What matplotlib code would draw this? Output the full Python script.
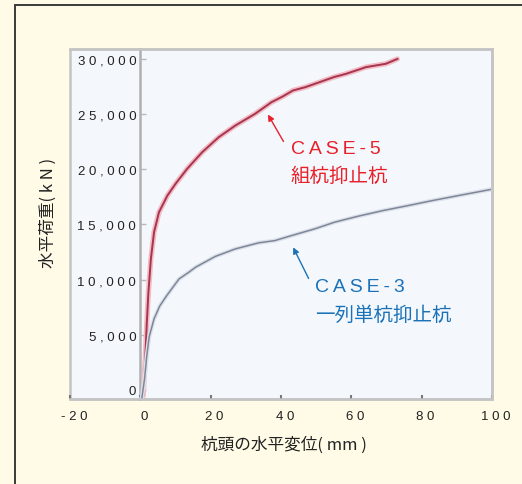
import matplotlib.pyplot as plt
from matplotlib.patches import Rectangle
from matplotlib.transforms import ScaledTranslation

# CASE-5 (組杭抑止杭) : displacement (mm), load (kN)
case5_disp = [0.4, 0.8, 1.4, 1.8, 2.3, 3.0, 3.9, 5.3, 7.7, 10.0, 13.3, 17.6, 22.3, 27.0,
              32.6, 37.3, 40.5, 43.4, 47.0, 51.0, 55.0, 58.5, 64.2, 69.8, 73.1]
case5_load = [-800, -520, 2810, 5830, 8860, 11880, 14300, 16110, 17620, 18680, 20040, 21550,
              22910, 23960, 25020, 26080, 26600, 27140, 27450, 27900, 28350, 28650, 29260,
              29560, 30000]

# CASE-3 (一列単杭抑止杭)
case3_disp = [0.4, 1.2, 1.8, 2.5, 3.9, 5.5, 7.5, 11.0, 13.8, 15.7, 21.3, 27.0, 33.6, 38.3,
              43.0, 49.6, 55.2, 62.0, 68.9, 76.0, 83.0, 91.0, 99.5]
case3_load = [-800, 1000, 3000, 4800, 6440, 7600, 8550, 10060, 10670, 11120, 12100, 12780,
              13330, 13540, 13990, 14600, 15200, 15750, 16250, 16700, 17160, 17650, 18160]

x_ticks = [-20, 0, 20, 40, 60, 80, 100]
y_ticks = [0, 5000, 10000, 15000, 20000, 25000, 30000]
y_tick_labels = ["0", "5,000", "10,000", "15,000", "20,000", "25,000", "30,000"]

labels5 = ["CASE-5", "組杭抑止杭"]
labels3 = ["CASE-3", "一列単杭抑止杭"]

cjk = ["Noto Sans CJK JP", "DejaVu Sans"]
latin = ["Liberation Sans", "DejaVu Sans"]


def spaced(s, sep=" "):
    return sep.join(s)


fig = plt.figure(figsize=(5.22, 4.85), dpi=100)
fig.patch.set_facecolor("#FFFBE7")

# outer frame (extends past the right / bottom edge)
fig.patches.append(Rectangle((15 / 522, -0.1), 1.2, 1 - 6 / 485 + 0.1,
                             transform=fig.transFigure, fill=False,
                             edgecolor="#3a3a3a", linewidth=1.4))

ax = fig.add_axes([70 / 522, 1 - 400 / 485, 422 / 522, 350 / 485])
ax.set_facecolor("#F4F8FC")
ax.patch.set_edgecolor("#C4C4C4")
ax.patch.set_linewidth(1.8)

# CASE-5: pink halo + dark red core
ax.plot(case5_disp, case5_load, color="#F2BCC6", linewidth=3.8,
        solid_joinstyle="round", solid_capstyle="round")
ax.plot(case5_disp, case5_load, color="#A8344E", linewidth=1.4, solid_joinstyle="round")
# CASE-3
ax.plot(case3_disp, case3_load, color="#DDE2EA", linewidth=3.0, solid_joinstyle="round")
ax.plot(case3_disp, case3_load, color="#7E879A", linewidth=1.1, solid_joinstyle="round")

ax.set_xlim(-19.6, 99.6)
ax.set_ylim(-820, 30900)

for side in ["top", "right", "bottom"]:
    ax.spines[side].set_color("#C4C4C4")
    ax.spines[side].set_linewidth(1.8)
ax.spines["left"].set_position(("data", 0))
ax.spines["left"].set_color("#AFAFAF")
ax.spines["left"].set_linewidth(1.8)
ax.spines["left"].set_zorder(1)

ax.set_yticks(y_ticks)
ax.set_yticklabels([spaced(t) for t in y_tick_labels], family=latin, fontsize=9.5,
                   color="#222222")
ax.tick_params(axis="y", direction="in", length=4, width=1, color="#B8B8B8", pad=3)

ax.set_xticks(x_ticks)
ax.set_xticklabels([spaced(str(t)) for t in x_ticks], family=latin, fontsize=9.5,
                   color="#222222")
ax.tick_params(axis="x", direction="in", length=3, width=1.5, color="#777777", pad=8)
for lab in ax.get_xticklabels():
    lab.set_transform(lab.get_transform() + ScaledTranslation(4 / 100, 0, fig.dpi_scale_trans))

# annotations
red = "#E8202A"
blue = "#1C72B8"
ax.annotate("", xy=(35.9, 25180), xytext=(41.1, 22300),
            arrowprops=dict(arrowstyle="-|>", color=red, lw=1.0, mutation_scale=9))
ax.text(42.8, 21850, spaced(labels5[0], "\u2009"), color=red, fontsize=14,
        family=latin, ha="left", va="center")
ax.text(42.8, 19400, labels5[1], color=red, fontsize=14, family=cjk,
        ha="left", va="center")

ax.annotate("", xy=(43.1, 13150), xytext=(48.2, 9880),
            arrowprops=dict(arrowstyle="-|>", color=blue, lw=1.0, mutation_scale=9))
ax.text(49.6, 9340, spaced(labels3[0], "\u2009"), color=blue, fontsize=14,
        family=latin, ha="left", va="center")
ax.text(49.6, 6890, labels3[1], color=blue, fontsize=14, family=cjk,
        ha="left", va="center")

fig.text(48 / 522, 1 - 213 / 485, "水平荷重( k N )", rotation=90, ha="center",
         va="center", fontsize=12, family=cjk, color="#222222")
fig.text(284 / 522, 1 - 445 / 485, "杭頭の水平変位( mm )", ha="center",
         va="center", fontsize=12, family=cjk, color="#222222")

fig.savefig("out.png", dpi=100, facecolor=fig.get_facecolor())
